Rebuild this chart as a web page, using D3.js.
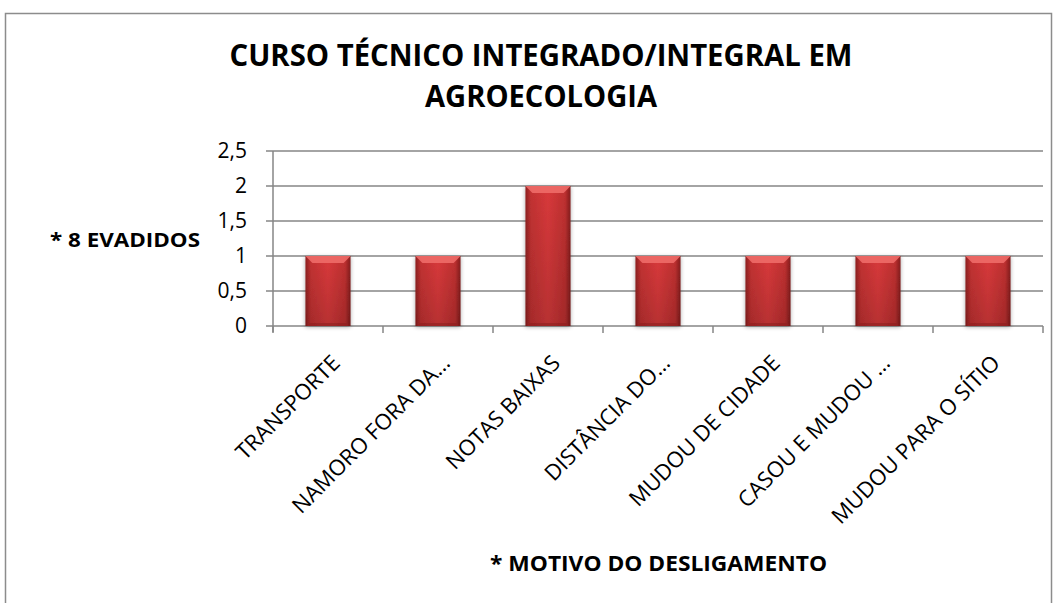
<!DOCTYPE html>
<html>
<head>
<meta charset="utf-8">
<script src="https://cdn.jsdelivr.net/npm/d3@7"></script>
<style>
  body { margin: 0; background: #fff; }
  svg text { font-family: "Open Sans", "DejaVu Sans", sans-serif; fill: #000; }
</style>
</head>
<body>
<div id="chart"></div>
<script>
// data
var categories = ["TRANSPORTE", "NAMORO FORA DA…", "NOTAS BAIXAS", "DISTÂNCIA DO…",
                  "MUDOU DE CIDADE", "CASOU E MUDOU …", "MUDOU PARA O SÍTIO"];
var values = [1, 1, 2, 1, 1, 1, 1];
var yTicks = [0, 0.5, 1, 1.5, 2, 2.5];
var titleLines = ["CURSO TÉCNICO INTEGRADO/INTEGRAL EM", "AGROECOLOGIA"];

var W = 1057, H = 603;
var margin = { top: 151, left: 273, right: 14, bottom: 277 };
var width = W - margin.left - margin.right;
var height = H - margin.top - margin.bottom;

var svg = d3.select("#chart").append("svg")
  .attr("width", W)
  .attr("height", H);

// bar gradient + bevel colors
var defs = svg.append("defs");
var grad = defs.append("linearGradient").attr("id", "barGrad")
  .attr("x1", "0%").attr("x2", "100%").attr("y1", "0%").attr("y2", "0%");
grad.append("stop").attr("offset", "0%").attr("stop-color", "#8e2121");
grad.append("stop").attr("offset", "12%").attr("stop-color", "#c23232");
grad.append("stop").attr("offset", "50%").attr("stop-color", "#d8393b");
grad.append("stop").attr("offset", "88%").attr("stop-color", "#be3030");
grad.append("stop").attr("offset", "100%").attr("stop-color", "#841d1d");

var vgrad = defs.append("linearGradient").attr("id", "barShade")
  .attr("x1", "0%").attr("x2", "0%").attr("y1", "0%").attr("y2", "100%");
vgrad.append("stop").attr("offset", "0%").attr("stop-color", "#000").attr("stop-opacity", 0);
vgrad.append("stop").attr("offset", "100%").attr("stop-color", "#000").attr("stop-opacity", 0.15);

var shadow = defs.append("filter").attr("id", "shadow")
  .attr("x", "-30%").attr("y", "-10%").attr("width", "160%").attr("height", "130%");
shadow.append("feGaussianBlur").attr("in", "SourceAlpha").attr("stdDeviation", 2).attr("result", "b");
shadow.append("feOffset").attr("in", "b").attr("dx", 0).attr("dy", 1).attr("result", "o");
shadow.append("feComponentTransfer").attr("in", "o").attr("result", "s")
  .append("feFuncA").attr("type", "linear").attr("slope", 0.35);
var mrg = shadow.append("feMerge");
mrg.append("feMergeNode").attr("in", "s");
mrg.append("feMergeNode").attr("in", "SourceGraphic");

// outer frame
svg.append("rect")
  .attr("x", 5.5).attr("y", 13.5)
  .attr("width", W - 11).attr("height", H + 20)
  .attr("fill", "none").attr("stroke", "#8c8c8c").attr("stroke-width", 1.5);

// title, two lines
var titleWidths = [623, 232];
svg.selectAll(".title").data(titleLines).enter().append("text")
  .attr("x", 541)
  .attr("y", function(d, i) { return i == 0 ? 66 : 107; })
  .attr("text-anchor", "middle")
  .attr("textLength", function(d, i) { return titleWidths[i]; })
  .attr("lengthAdjust", "spacingAndGlyphs")
  .style("font-size", "31px").style("font-weight", "bold")
  .text(function(d) { return d; });

var g = svg.append("g")
  .attr("transform", "translate(" + margin.left + "," + margin.top + ")");

var x = d3.scaleBand().domain(categories).range([0, width]).paddingInner(0.59).paddingOuter(0.295);
var xTicks = d3.scaleBand().domain(categories).range([0, width]);
var y = d3.scaleLinear().domain([0, 2.5]).range([height, 0]);

// gridlines
g.selectAll(".grid").data(yTicks).enter().append("line")
  .attr("x1", -7).attr("x2", width)
  .attr("y1", function(d) { return y(d); })
  .attr("y2", function(d) { return y(d); })
  .attr("stroke", "#868686").attr("stroke-width", 1.5);

// y axis line
g.append("line").attr("x1", 0).attr("x2", 0).attr("y1", 0).attr("y2", height + 6)
  .attr("stroke", "#868686").attr("stroke-width", 1.5);

// x tick marks at category boundaries
var bounds = categories.map(function(c) { return xTicks(c); }).concat([width]);
g.selectAll(".xtick").data(bounds).enter().append("line")
  .attr("x1", function(d) { return d; }).attr("x2", function(d) { return d; })
  .attr("y1", height).attr("y2", height + 7)
  .attr("stroke", "#868686").attr("stroke-width", 1.5);

// y tick labels
g.selectAll(".ylab").data(yTicks).enter().append("text")
  .attr("x", -26).attr("y", function(d) { return y(d); })
  .attr("dy", "0.32em")
  .attr("text-anchor", "end")
  .style("font-size", "21px")
  .text(function(d) { return String(d).replace(".", ","); });

// bars
var bars = g.selectAll(".bar").data(values).enter().append("g")
  .attr("filter", "url(#shadow)");

bars.append("rect")
  .attr("x", function(d, i) { return x(categories[i]); })
  .attr("y", function(d) { return y(d); })
  .attr("width", x.bandwidth())
  .attr("height", function(d) { return height - y(d); })
  .attr("fill", "url(#barGrad)");

bars.append("rect")
  .attr("x", function(d, i) { return x(categories[i]); })
  .attr("y", function(d) { return y(d); })
  .attr("width", x.bandwidth())
  .attr("height", function(d) { return height - y(d); })
  .attr("fill", "url(#barShade)");

// top bevel
bars.append("path")
  .attr("d", function(d, i) {
    var x0 = x(categories[i]), x1 = x0 + x.bandwidth(), y0 = y(d), b = 7;
    return "M" + x0 + "," + y0 + "L" + x1 + "," + y0 + "L" + (x1 - b) + "," + (y0 + b) +
           "L" + (x0 + b) + "," + (y0 + b) + "Z";
  })
  .attr("fill", "#ee6c68").attr("opacity", 0.9);

// bottom dark edge
bars.append("rect")
  .attr("x", function(d, i) { return x(categories[i]) + 4; })
  .attr("y", height - 3)
  .attr("width", x.bandwidth() - 8)
  .attr("height", 3)
  .attr("fill", "#8e2020").attr("opacity", 0.6);

// x labels rotated
g.selectAll(".xlab").data(categories).enter().append("text")
  .attr("transform", function(d) {
    return "translate(" + (xTicks(d) + xTicks.bandwidth() / 2 + 8) + "," + (height + 33) + ") rotate(-45)";
  })
  .attr("text-anchor", "end")
  .attr("dy", "0.35em")
  .style("font-size", "22px")
  .text(function(d) { return d; });

// axis titles
svg.append("text")
  .attr("x", 50).attr("y", 247)
  .attr("textLength", 150).attr("lengthAdjust", "spacingAndGlyphs")
  .style("font-size", "20px").style("font-weight", "bold")
  .text("* 8 EVADIDOS");

svg.append("text")
  .attr("x", 490).attr("y", 571)
  .attr("textLength", 337).attr("lengthAdjust", "spacingAndGlyphs")
  .style("font-size", "21px").style("font-weight", "bold")
  .text("* MOTIVO DO DESLIGAMENTO");
</script>
</body>
</html>
